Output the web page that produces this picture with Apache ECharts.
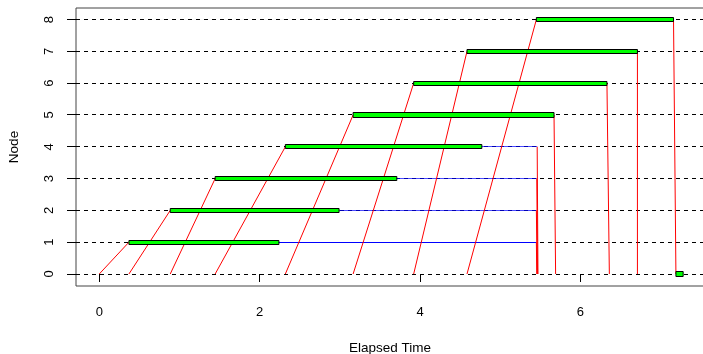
<!DOCTYPE html>
<html><head><meta charset="utf-8">
<script src="https://cdn.jsdelivr.net/npm/echarts@6/dist/echarts.min.js"></script>
<style>html,body{margin:0;padding:0;background:#fff}#c{width:703px;height:354px}</style>
</head><body><div id="c"></div>
<script>
// ---- data ----
var nodes = [1, 2, 3, 4, 5, 6, 7, 8];
var gridLevels = [0, 1, 2, 3, 4, 5, 6, 7, 8];
var sendStart    = [0, 0.37, 0.885, 1.445, 2.32, 3.165, 3.92, 4.585];  // master sends task (node 0)
var computeStart = [0.37, 0.885, 1.445, 2.32, 3.165, 3.92, 4.585, 5.45];
var computeEnd   = [2.24, 2.99, 3.71, 4.77, 5.67, 6.33, 6.71, 7.16];
var resultSend   = [5.45, 5.45, 5.455, 5.46, 5.67, 6.33, 6.71, 7.16];
var resultRecv   = [5.455, 5.46, 5.465, 5.47, 5.69, 6.36, 6.71, 7.19];
var masterCompute = [7.19, 7.28];
var xTicks = [0, 2, 4, 6];
var yTicks = [0, 1, 2, 3, 4, 5, 6, 7, 8];
var xMin = -0.29, xMax = 7.54, yMin = -0.377, yMax = 8.364;

// ---- build segments ----
var gridSegs = gridLevels.map(function (l) { return [xMin, l, xMax, l]; });
var blueSegs = [];
var redSegs = [];
var rects = [];
nodes.forEach(function (n, i) {
  redSegs.push([sendStart[i], 0, computeStart[i], n]);
  rects.push([computeStart[i], computeEnd[i], n]);
  if (resultSend[i] > computeEnd[i]) blueSegs.push([computeEnd[i], n, resultSend[i], n, i === 0 ? 1 : 0.7]);
  redSegs.push([resultSend[i], n, resultRecv[i], 0]);
});
rects.push([masterCompute[0], masterCompute[1], 0]);

function snap(v) { return Math.round(v - 0.5) + 0.5; }
function segRenderer(color, dash) {
  return function (params, api) {
    var p1 = api.coord([api.value(0), api.value(1)]);
    var p2 = api.coord([api.value(2), api.value(3)]);
    var op = api.value(4);
    var y1 = p1[1], y2 = p2[1];
    if (Math.abs(y1 - y2) < 0.01) { y1 = y2 = snap(y1); }
    return {
      type: 'line',
      shape: { x1: p1[0], y1: y1, x2: p2[0], y2: y2 },
      style: { stroke: color, lineWidth: 1, lineDash: dash, opacity: isNaN(op) ? 1 : op }
    };
  };
}
function yTickRenderer(params, api) {
  var p = api.coord([xMin, api.value(0)]);
  var y = snap(p[1]);
  return { type: 'line', shape: { x1: p[0] - 9, y1: y, x2: p[0], y2: y },
           style: { stroke: '#000', lineWidth: 1 } };
}
var H = 0.065;
function rectRenderer(params, api) {
  var a = api.coord([api.value(0), api.value(2) + H]);
  var b = api.coord([api.value(1), api.value(2) - H]);
  var y0 = snap(a[1]), y1 = snap(b[1]);
  return {
    type: 'rect',
    shape: { x: a[0], y: y0, width: b[0] - a[0], height: y1 - y0 },
    style: { fill: '#00ff00', stroke: '#000', lineWidth: 1 }
  };
}

var font = 'Liberation Sans, Arial, Helvetica, sans-serif';
var chart = echarts.init(document.getElementById('c'), null, { renderer: 'canvas' });
chart.setOption({
  animation: false,
  grid: { left: 76, right: -1, top: 8, bottom: 68, show: true, borderColor: '#444', borderWidth: 1,
          containLabel: false, outerBoundsMode: 'none' },
  xAxis: {
    type: 'value', min: xMin, max: xMax,
    name: 'Elapsed Time', nameLocation: 'middle', nameGap: 55,
    nameTextStyle: { color: '#000', fontFamily: font, fontSize: 13.5 },
    axisLine: { show: false },
    axisTick: { show: true, inside: false, length: 8, lineStyle: { color: '#000' }, customValues: xTicks },
    axisLabel: { color: '#000', fontFamily: font, fontSize: 13, margin: 20, customValues: xTicks },
    splitLine: { show: false }
  },
  yAxis: {
    type: 'value', min: yMin, max: yMax,
    name: 'Node', nameLocation: 'middle', nameGap: 55, nameRotate: 90,
    nameTextStyle: { color: '#000', fontFamily: font, fontSize: 13.5 },
    axisLine: { show: false },
    axisTick: { show: false },
    axisLabel: { color: '#000', fontFamily: font, fontSize: 13, margin: 20, rotate: 90, customValues: yTicks },
    splitLine: { show: false }
  },
  series: [
    { type: 'custom', renderItem: yTickRenderer, data: yTicks, z: 1, silent: true, clip: false },
    { type: 'custom', renderItem: segRenderer('#000', [4, 4]), data: gridSegs, z: 1, silent: true, clip: true },
    { type: 'custom', renderItem: segRenderer('#0000ff', null), data: blueSegs, z: 2, silent: true },
    { type: 'custom', renderItem: segRenderer('#ff0000', null), data: redSegs, z: 3, silent: true },
    { type: 'custom', renderItem: rectRenderer, data: rects, z: 4, silent: true }
  ]
});
</script></body></html>
